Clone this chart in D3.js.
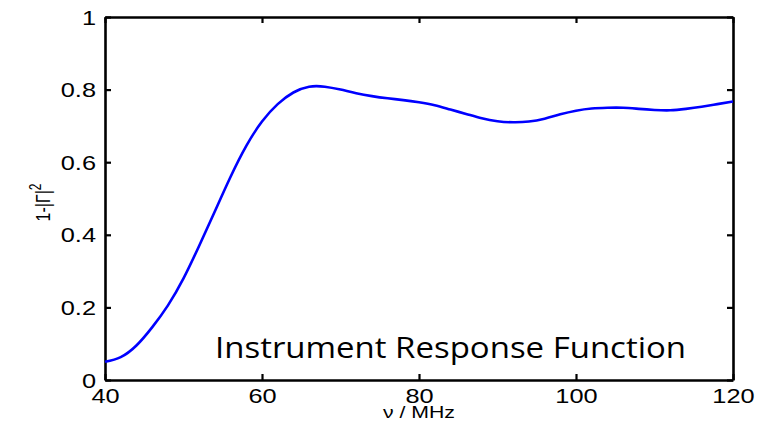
<!DOCTYPE html>
<html>
<head>
<meta charset="utf-8">
<script src="https://cdn.jsdelivr.net/npm/d3@7"></script>
<style>
  body { margin: 0; background: #fff; }
  .tick text { font-family: "Liberation Sans", Arial, sans-serif; }
</style>
</head>
<body>
<svg id="chart"></svg>
<script>
// frequency (MHz) and 1-|Gamma|^2
var freq = [40, 42, 44, 46, 48, 50, 52, 54, 56, 58, 60, 62, 64, 66, 68, 70, 72, 74, 76, 78, 80,
            82, 84, 86, 88, 90, 92, 94, 96, 98, 100, 102, 104, 106, 108, 110, 112, 114, 116, 118, 120];
var response = [0.05, 0.063, 0.095, 0.145, 0.205, 0.28, 0.37, 0.465, 0.56, 0.645, 0.712, 0.76, 0.792, 0.808, 0.808,
                0.80, 0.79, 0.782, 0.776, 0.771, 0.765, 0.757, 0.745, 0.733, 0.721, 0.713, 0.71, 0.712, 0.72,
                0.732, 0.742, 0.748, 0.75, 0.75, 0.747, 0.744, 0.743, 0.747, 0.753, 0.76, 0.767];
var xTicks = [40, 60, 80, 100, 120],
    yTicks = [0, 0.2, 0.4, 0.6, 0.8, 1];

var width = 773, height = 429,
    margin = {top: 17, right: 40, bottom: 49, left: 105},
    innerWidth = width - margin.left - margin.right,
    innerHeight = height - margin.top - margin.bottom,
    stretch = 1.3;   // the original's text is drawn wider than the font

var xScale = d3.scaleLinear().domain([40, 120]).range([0, innerWidth]),
    yScale = d3.scaleLinear().domain([0, 1]).range([innerHeight, 0]);

var svg = d3.select("#chart")
    .attr("width", width)
    .attr("height", height)
  .append("g")
    .attr("transform", "translate(" + margin.left + "," + margin.top + ")");

var fmt = function(d) { return d3.format("~g")(d); };

// bottom / left with labels, top / right mirrored ticks only
var gBottom = svg.append("g")
    .attr("transform", "translate(0," + innerHeight + ")")
    .call(d3.axisBottom(xScale).tickValues(xTicks).tickSizeInner(-6).tickSizeOuter(0).tickFormat(fmt));
var gLeft = svg.append("g")
    .call(d3.axisLeft(yScale).tickValues(yTicks).tickSizeInner(-6).tickSizeOuter(0).tickFormat(fmt));
var gTop = svg.append("g")
    .call(d3.axisTop(xScale).tickValues(xTicks).tickSizeInner(-6).tickSizeOuter(0).tickFormat(""));
var gRight = svg.append("g")
    .attr("transform", "translate(" + innerWidth + ",0)")
    .call(d3.axisRight(yScale).tickValues(yTicks).tickSizeInner(-6).tickSizeOuter(0).tickFormat(""));

[gBottom, gLeft, gTop, gRight].forEach(function(g) {
  g.select(".domain").attr("stroke", "#000").attr("stroke-width", 2.6);
  g.selectAll(".tick line").attr("stroke", "#000").attr("stroke-width", 2.2);
  g.selectAll(".tick text").attr("fill", "#000").style("font-size", "19.5px");
});
gBottom.selectAll(".tick text")
    .attr("x", 0).attr("y", 0).attr("dy", "1.05em")
    .attr("transform", "translate(0,3) scale(" + stretch + ",1)");
gLeft.selectAll(".tick text")
    .attr("x", 0).attr("dy", "0.36em")
    .attr("transform", "translate(-9,0) scale(" + stretch + ",1)");

svg.append("path")
    .datum(freq.map(function(f, i) { return [f, response[i]]; }))
    .attr("fill", "none")
    .attr("stroke", "#0000ff")
    .attr("stroke-width", 2.6)
    .attr("d", d3.line()
      .x(function(d) { return xScale(d[0]); })
      .y(function(d) { return yScale(d[1]); })
      .curve(d3.curveNatural));

// axis labels
svg.append("text")
    .attr("transform", "translate(" + (innerWidth / 2) + "," + (innerHeight + 38) + ") scale(1.25,1)")
    .attr("text-anchor", "middle")
    .style("font-family", "Liberation Sans, Arial, sans-serif")
    .style("font-size", "17px")
    .text("\u03bd / MHz");

var ylab = svg.append("text")
    .attr("transform", "translate(-55," + (yScale(0.5) + 4) + ") rotate(-90) scale(1," + stretch + ")")
    .attr("text-anchor", "middle")
    .style("font-family", "Liberation Sans, Arial, sans-serif")
    .style("font-size", "16px");
ylab.append("tspan").text("1-|\u0393|");
ylab.append("tspan").attr("dy", "-0.6em").style("font-size", "12px").text("2");

svg.append("text")
    .attr("x", 110)
    .attr("y", 341)
    .attr("textLength", 471)
    .attr("lengthAdjust", "spacingAndGlyphs")
    .style("font-family", "Open Sans, sans-serif")
    .style("font-size", "30px")
    .text("Instrument Response Function");
</script>
</body>
</html>
